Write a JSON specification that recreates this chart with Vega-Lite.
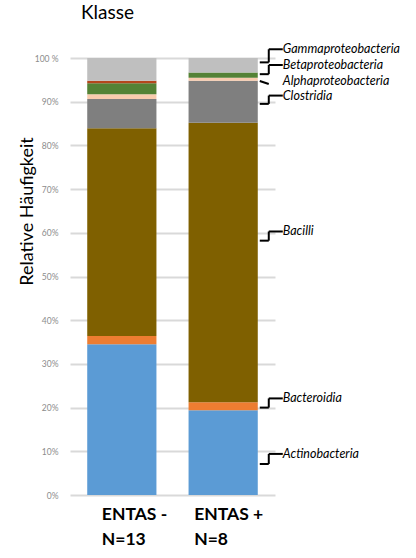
{
  "$schema": "https://vega.github.io/schema/vega-lite/v6.json",
  "width": 205,
  "height": 437,
  "autosize": {"type": "none"},
  "padding": {"left": 70, "top": 58, "right": 141, "bottom": 63},
  "background": "white",
  "config": {"view": {"stroke": null}, "font": "Lato"},
  "title": {"text": "Klasse", "anchor": "start", "frame": "group", "dx": 11, "offset": 5, "baseline": "alphabetic", "fontSize": 19, "fontWeight": "normal", "font": "Lato", "color": "#000000"},
  "datasets": {
    "bars": [
      {"group": "ENTAS -", "klasse": "Actinobacteria", "rang": 1, "anteil": 34.5},
      {"group": "ENTAS -", "klasse": "Bacteroidia", "rang": 2, "anteil": 1.9},
      {"group": "ENTAS -", "klasse": "Bacilli", "rang": 3, "anteil": 47.5},
      {"group": "ENTAS -", "klasse": "Clostridia", "rang": 4, "anteil": 6.7},
      {"group": "ENTAS -", "klasse": "Alphaproteobacteria", "rang": 5, "anteil": 1.1},
      {"group": "ENTAS -", "klasse": "Betaproteobacteria", "rang": 6, "anteil": 2.5},
      {"group": "ENTAS -", "klasse": "Sonstige", "rang": 7, "anteil": 0.6},
      {"group": "ENTAS -", "klasse": "Gammaproteobacteria", "rang": 8, "anteil": 5.2},
      {"group": "ENTAS +", "klasse": "Actinobacteria", "rang": 1, "anteil": 19.4},
      {"group": "ENTAS +", "klasse": "Bacteroidia", "rang": 2, "anteil": 1.8},
      {"group": "ENTAS +", "klasse": "Bacilli", "rang": 3, "anteil": 64.0},
      {"group": "ENTAS +", "klasse": "Clostridia", "rang": 4, "anteil": 9.6},
      {"group": "ENTAS +", "klasse": "Alphaproteobacteria", "rang": 5, "anteil": 0.7},
      {"group": "ENTAS +", "klasse": "Betaproteobacteria", "rang": 6, "anteil": 1.2},
      {"group": "ENTAS +", "klasse": "Sonstige", "rang": 7, "anteil": 0.0},
      {"group": "ENTAS +", "klasse": "Gammaproteobacteria", "rang": 8, "anteil": 3.3}
    ],
    "labels": [
      {"group": "ENTAS +", "klasse": "Gammaproteobacteria", "from": 99.0, "to": 102.0, "ylab": 102.0},
      {"group": "ENTAS +", "klasse": "Betaproteobacteria", "from": 96.3, "to": 98.4, "ylab": 98.4},
      {"group": "ENTAS +", "klasse": "Alphaproteobacteria", "from": 94.75, "to": 94.06, "ylab": 94.7},
      {"group": "ENTAS +", "klasse": "Clostridia", "from": 89.5, "to": 91.4, "ylab": 91.4},
      {"group": "ENTAS +", "klasse": "Bacilli", "from": 58.2, "to": 60.3, "ylab": 60.3},
      {"group": "ENTAS +", "klasse": "Bacteroidia", "from": 20.0, "to": 22.1, "ylab": 22.1},
      {"group": "ENTAS +", "klasse": "Actinobacteria", "from": 7.1, "to": 9.4, "ylab": 9.4}
    ]
  },
  "layer": [
    {
      "data": {"name": "bars"},
      "mark": {"type": "bar"},
      "encoding": {
        "x": {
          "field": "group", "type": "nominal", "sort": ["ENTAS -", "ENTAS +"], "title": null,
          "scale": {"paddingInner": 0.317, "paddingOuter": 0.17},
          "axis": {
            "domain": false, "ticks": false, "labelAngle": 0,
            "labelExpr": "datum.value == 'ENTAS -' ? ['ENTAS -', 'N=13'] : ['ENTAS +', 'N=8']",
            "labelAlign": "left",
            "labelOffset": {"condition": {"test": "datum.value == 'ENTAS +'", "value": -29}, "value": -20},
            "labelPadding": 10,
            "labelFont": "Lato", "labelFontSize": 17.5, "labelFontWeight": "bold", "labelColor": "#000000",
            "labelLineHeight": 25, "labelBaseline": "top"
          }
        },
        "y": {
          "field": "anteil", "type": "quantitative", "stack": "zero", "title": "Relative Häufigkeit",
          "scale": {"domain": [0, 100], "nice": false},
          "axis": {
            "values": [0, 10, 20, 30, 40, 50, 60, 70, 80, 90, 100],
            "labelExpr": "datum.value == 100 ? '100 %' : datum.value + '%'",
            "domain": false, "ticks": false, "grid": true, "gridColor": "#d9d9d9", "gridWidth": 2,
            "labelFontSize": 8.5, "labelColor": "#8c8c8c", "labelPadding": 12, "labelFont": "Lato",
            "titleFont": "Lato", "titleFontSize": 18, "titleFontWeight": "normal", "titleColor": "#000000",
            "titleX": -43, "titleY": 153, "titleAlign": "center", "titleBaseline": "middle", "titleAngle": -90
          }
        },
        "color": {
          "field": "klasse", "type": "nominal", "legend": null,
          "scale": {
            "domain": ["Actinobacteria", "Bacteroidia", "Bacilli", "Clostridia", "Alphaproteobacteria", "Betaproteobacteria", "Sonstige", "Gammaproteobacteria"],
            "range": ["#5b9bd5", "#ed7d31", "#7f6000", "#7f7f7f", "#f8cbad", "#548235", "#b4461c", "#bfbfbf"]
          }
        },
        "order": {"field": "rang", "type": "quantitative", "sort": "ascending"}
      }
    },
    {
      "data": {"name": "labels"},
      "transform": [{"filter": "datum.klasse != 'Alphaproteobacteria'"}],
      "mark": {"type": "rule", "color": "#000000", "strokeWidth": 2, "xOffset": 2, "x2Offset": 11},
      "encoding": {
        "x": {"field": "group", "type": "nominal", "sort": ["ENTAS -", "ENTAS +"], "bandPosition": 1, "title": null},
        "x2": {"field": "group", "bandPosition": 1},
        "y": {"field": "from", "type": "quantitative", "title": "Relative Häufigkeit"}
      }
    },
    {
      "data": {"name": "labels"},
      "transform": [{"filter": "datum.klasse != 'Alphaproteobacteria'"}],
      "mark": {"type": "rule", "color": "#000000", "strokeWidth": 2, "xOffset": 11},
      "encoding": {
        "x": {"field": "group", "type": "nominal", "sort": ["ENTAS -", "ENTAS +"], "bandPosition": 1, "title": null},
        "y": {"field": "from", "type": "quantitative", "title": "Relative Häufigkeit"},
        "y2": {"field": "to"}
      }
    },
    {
      "data": {"name": "labels"},
      "transform": [{"filter": "datum.klasse != 'Alphaproteobacteria'"}],
      "mark": {"type": "rule", "color": "#000000", "strokeWidth": 2, "xOffset": 11, "x2Offset": 25},
      "encoding": {
        "x": {"field": "group", "type": "nominal", "sort": ["ENTAS -", "ENTAS +"], "bandPosition": 1, "title": null},
        "x2": {"field": "group", "bandPosition": 1},
        "y": {"field": "to", "type": "quantitative", "title": "Relative Häufigkeit"}
      }
    },
    {
      "data": {"name": "labels"},
      "transform": [{"filter": "datum.klasse == 'Alphaproteobacteria'"}],
      "mark": {"type": "rule", "color": "#000000", "strokeWidth": 2, "xOffset": 2, "x2Offset": 11},
      "encoding": {
        "x": {"field": "group", "type": "nominal", "sort": ["ENTAS -", "ENTAS +"], "bandPosition": 1, "title": null},
        "x2": {"field": "group", "bandPosition": 1},
        "y": {"field": "from", "type": "quantitative", "title": "Relative Häufigkeit"},
        "y2": {"field": "to"}
      }
    },
    {
      "data": {"name": "labels"},
      "mark": {"type": "text", "align": "left", "baseline": "middle", "dx": 25, "fontStyle": "italic", "fontSize": 12.5, "font": "Lato", "color": "#000000"},
      "encoding": {
        "x": {"field": "group", "type": "nominal", "sort": ["ENTAS -", "ENTAS +"], "bandPosition": 1, "title": null},
        "y": {"field": "ylab", "type": "quantitative", "title": "Relative Häufigkeit"},
        "text": {"field": "klasse"}
      }
    }
  ]
}
